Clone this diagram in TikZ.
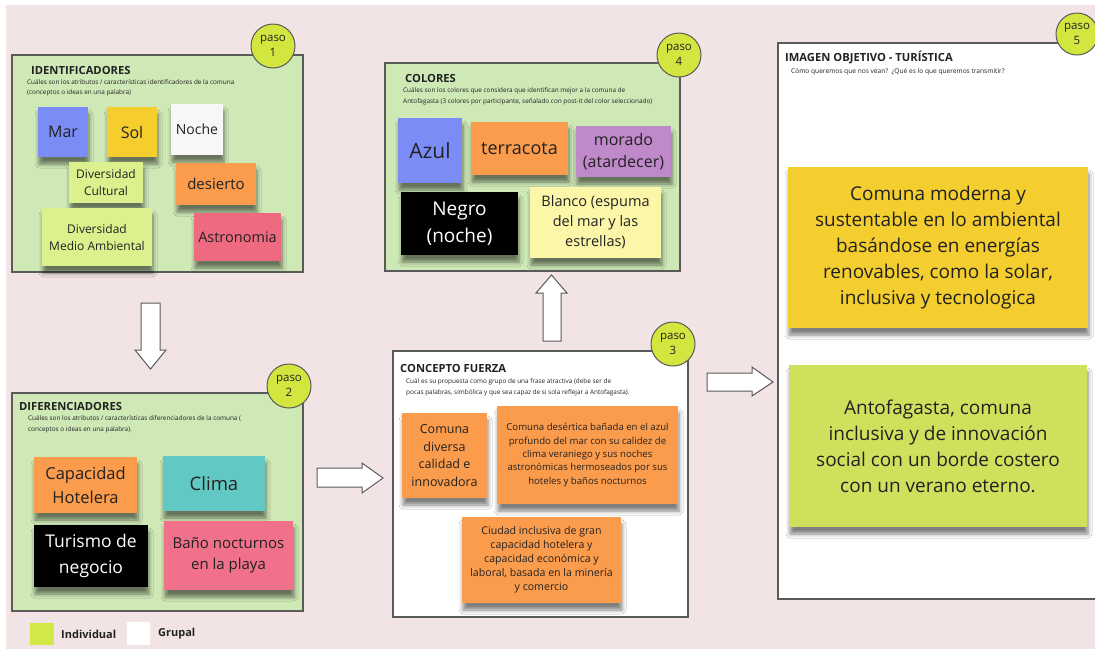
\documentclass[tikz,border=0pt]{standalone}
\usepackage{fontspec}
\setmainfont{Open Sans}
\usetikzlibrary{shadows.blur}
\newcommand\fsz[2]{\fontsize{#1}{#2}\selectfont}
\definecolor{bgpink}{HTML}{F2E4E4}
\definecolor{boxgreen}{HTML}{CEE8B6}
\definecolor{bordergray}{HTML}{5A5A5A}
\definecolor{pasofill}{HTML}{D3E640}
\definecolor{cblue}{HTML}{7C8CF6}
\definecolor{cyellow}{HTML}{F5CE2E}
\definecolor{cwhite}{HTML}{F7F7F7}
\definecolor{clime}{HTML}{DCF18E}
\definecolor{corange}{HTML}{FB9C4C}
\definecolor{cred}{HTML}{EE6A80}
\definecolor{cteal}{HTML}{62C8C4}
\definecolor{cpink}{HTML}{F07189}
\definecolor{cpurple}{HTML}{C08ACA}
\definecolor{clyellow}{HTML}{FCF6A8}
\definecolor{cbigyellow}{HTML}{F4CD2E}
\definecolor{cbiggreen}{HTML}{CFE05C}
\definecolor{clegend}{HTML}{D2E848}
\definecolor{txt}{HTML}{222222}
\tikzset{
  panel/.style={draw=bordergray, line width=1.2pt},
  paso/.style={circle, draw=bordergray, line width=1pt, fill=pasofill, minimum size=44pt, inner sep=0pt, align=center, font=\fsz{11.5}{14.5}, text=txt},
  ptitle/.style={anchor=west, inner sep=0pt, font=\bfseries\fsz{11.2}{13}, text=txt},
  psub/.style={anchor=north west, inner sep=0pt, align=left, font=\fsz{6.4}{10.5}, text=txt},
  sticky/.style={inner sep=0pt, align=center, text=txt,
     blur shadow={shadow xshift=1pt, shadow yshift=-7pt, shadow blur radius=4pt, shadow opacity=50}},
  blockarrow/.style={draw=bordergray, line width=1pt, fill=white, line join=miter},
}
\begin{document}
\begin{tikzpicture}[x=1pt,y=-1pt]
\useasboundingbox (0,0) rectangle (1095,649);
\fill[white] (0,0) rectangle (1095,649);
\fill[bgpink] (6,5) rectangle (1095,649);

% ---------- Panel 1 ----------
\node[panel, fill=boxgreen, minimum width=291pt, minimum height=217pt, inner sep=0pt] (p1) at (157.5,163.5) {};
\node[paso] (s1) at (273,46) {paso\\1};
\node[ptitle] (t1) at (31,70) {IDENTIFICADORES};
\node[psub] (u1) at (27,79) {Cuáles son los atributos / características identificadores de la comuna\\(conceptos o ideas en una palabra)};
\node[sticky, fill=cblue, minimum width=50pt, minimum height=50pt, font=\fsz{16}{20}] (mar) at (63,132) {Mar};
\node[sticky, fill=cyellow, minimum width=50pt, minimum height=50pt, font=\fsz{16}{20}] (sol) at (132,132) {Sol};
\node[sticky, fill=cwhite, minimum width=52pt, minimum height=51pt, font=\fsz{14}{18}] (noche) at (197,129.5) {Noche};
\node[sticky, fill=clime, minimum width=74pt, minimum height=41pt, font=\fsz{12}{17}] (divc) at (106,182.5) {Diversidad\\Cultural};
\node[sticky, fill=corange, minimum width=80pt, minimum height=42pt, font=\fsz{15}{19}] (des) at (216,184) {desierto};
\node[sticky, fill=clime, minimum width=110pt, minimum height=58pt, font=\fsz{12}{17}] (divm) at (97,237) {Diversidad\\Medio Ambiental};
\node[sticky, fill=cred, minimum width=87pt, minimum height=48pt, font=\fsz{14.5}{19}] (astro) at (237.5,237) {Astronomia};

% ---------- Panel 2 ----------
\node[panel, fill=boxgreen, minimum width=291pt, minimum height=218pt, inner sep=0pt] (p2) at (157.5,502) {};
\node[paso] (s2) at (289,386) {paso\\2};
\node[ptitle] (t2) at (19,406) {DIFERENCIADORES};
\node[psub] (u2) at (28,415.5) {Cuáles son los atributos / características diferenciadores de la comuna (\\conceptos o ideas en una palabra).};
\node[sticky, fill=corange, minimum width=103pt, minimum height=56pt, font=\fsz{16.5}{24}] (cap) at (85.5,485) {Capacidad\\Hotelera};
\node[sticky, fill=cteal, minimum width=102pt, minimum height=55pt, font=\fsz{18.5}{23}] (clima) at (214,483.5) {Clima};
\node[sticky, fill=black, text=white, minimum width=114pt, minimum height=62pt, font=\fsz{17.5}{26.5}] (tur) at (91,556) {Turismo de\\negocio};
\node[sticky, fill=cpink, minimum width=129pt, minimum height=69pt, font=\fsz{15}{20.5}] (bano) at (228.5,555.5) {Baño nocturnos\\en la playa};

% legend
\node[fill=clegend, minimum width=24pt, minimum height=22pt, inner sep=0pt] (lg1) at (42,634) {};
\node[anchor=west, inner sep=0pt, font=\bfseries\fsz{11}{13}, text=txt] (lt1) at (61,634) {Individual};
\node[fill=white, minimum width=23pt, minimum height=23pt, inner sep=0pt] (lg2) at (138.5,633.5) {};
\node[anchor=west, inner sep=0pt, font=\bfseries\fsz{11}{13}, text=txt] (lt2) at (158,634) {Grupal};

% ---------- Panel 3 ----------
\node[panel, fill=white, minimum width=295pt, minimum height=266pt, inner sep=0pt] (p3) at (540.5,484) {};
\node[paso] (s3) at (673,344) {paso\\3};
\node[ptitle] (t3) at (400,368) {CONCEPTO FUERZA};
\node[psub] (u3) at (406,378.5) {Cuál es su propuesta como grupo de una frase atractiva (debe ser de\\pocas palabras, simbólica y que sea capaz de si sola reflejar a Antofagasta).};
\node[sticky, fill=corange, minimum width=85pt, minimum height=85pt, font=\fsz{12.5}{17.8}] (cd) at (444.5,455.5) {Comuna\\diversa\\calidad e\\innovadora};
\node[sticky, fill=corange, minimum width=181pt, minimum height=98pt, font=\fsz{9.6}{13.3}] (cl) at (587.5,455) {Comuna desértica bañada en el azul\\profundo del mar con su calidez de\\clima veraniego y sus noches\\astronómicas hermoseados por sus\\hoteles y baños nocturnos};
\node[sticky, fill=corange, minimum width=159pt, minimum height=86pt, font=\fsz{10.6}{14}] (ci) at (541.5,560) {Ciudad inclusiva de gran\\capacidad hotelera y\\capacidad económica y\\laboral, basada en la minería\\y comercio};

% ---------- Panel 4 ----------
\node[panel, fill=boxgreen, minimum width=295pt, minimum height=208pt, inner sep=0pt] (p4) at (532.5,167) {};
\node[paso] (s4) at (679,55) {paso\\4};
\node[ptitle] (t4) at (405,78) {COLORES};
\node[psub] (u4) at (403,87.5) {Cuáles son los colores que considera que identifican mejor a la comuna de\\Antofagasta (3 colores por participante, señalado con post-it del color seleccionado)};
\node[sticky, fill=cblue, minimum width=64pt, minimum height=65pt, font=\fsz{21}{25}] (azul) at (430,150.5) {Azul};
\node[sticky, fill=corange, minimum width=97pt, minimum height=53pt, font=\fsz{18}{22}] (terra) at (519.5,148.5) {terracota};
\node[sticky, fill=cpurple, minimum width=95pt, minimum height=51pt, font=\fsz{16}{21.7}] (mora) at (623.5,151.5) {morado\\(atardecer)};
\node[sticky, fill=black, text=white, minimum width=117pt, minimum height=63pt, font=\fsz{19}{26.7}] (negro) at (459.5,223.5) {Negro\\(noche)};
\node[sticky, fill=clyellow, minimum width=131pt, minimum height=71pt, font=\fsz{14.5}{20}] (blanco) at (595.5,222.5) {Blanco (espuma\\del mar y las\\estrellas)};

% ---------- Panel 5 ----------
\draw[panel, fill=white] (1100,43) -- (778,43) -- (778,599) -- (1100,599);
\coordinate (p5) at (778,43);
\node[paso, minimum size=42pt] (s5) at (1077,34) {paso\\5};
\node[ptitle] (t5) at (785,57) {IMAGEN OBJETIVO - TURÍSTICA};
\node[psub, font=\fsz{6.6}{10}] (u5) at (791,68.5) {Cómo queremos que nos vean?\ \ ¿Qué es lo que queremos transmitir?};
\node[sticky, fill=cbigyellow, minimum width=300pt, minimum height=161pt, font=\fsz{19}{26}] (big1) at (938,247.5) {Comuna moderna y\\sustentable en lo ambiental\\basándose en energías\\renovables, como la solar,\\inclusiva y tecnologica};
\node[sticky, fill=cbiggreen, minimum width=298pt, minimum height=162pt, font=\fsz{19}{26}] (big2) at (938,446) {Antofagasta, comuna\\inclusiva y de innovación\\social con un borde costero\\con un verano eterno.};

% ---------- Block arrows ----------
% down (panel 1 -> panel 2)
\draw[blockarrow] (141,303) -- (160,303) -- (160,350) -- (166,350) -- (150.5,369) -- (135,350) -- (141,350) -- cycle;
% right (panel 2 -> panel 3)
\draw[blockarrow] (317,468) -- (362,468) -- (362,463) -- (383,478) -- (362,493) -- (362,487) -- (317,487) -- cycle;
% up (panel 3 -> panel 4)
\draw[blockarrow] (543,341) -- (561,341) -- (561,293) -- (567,293) -- (551.5,275) -- (536,293) -- (543,293) -- cycle;
% right (panel 3 -> panel 5)
\draw[blockarrow] (707,373) -- (752,373) -- (752,367) -- (773,382) -- (752,396) -- (752,391) -- (707,391) -- cycle;
\end{tikzpicture}
\end{document}
